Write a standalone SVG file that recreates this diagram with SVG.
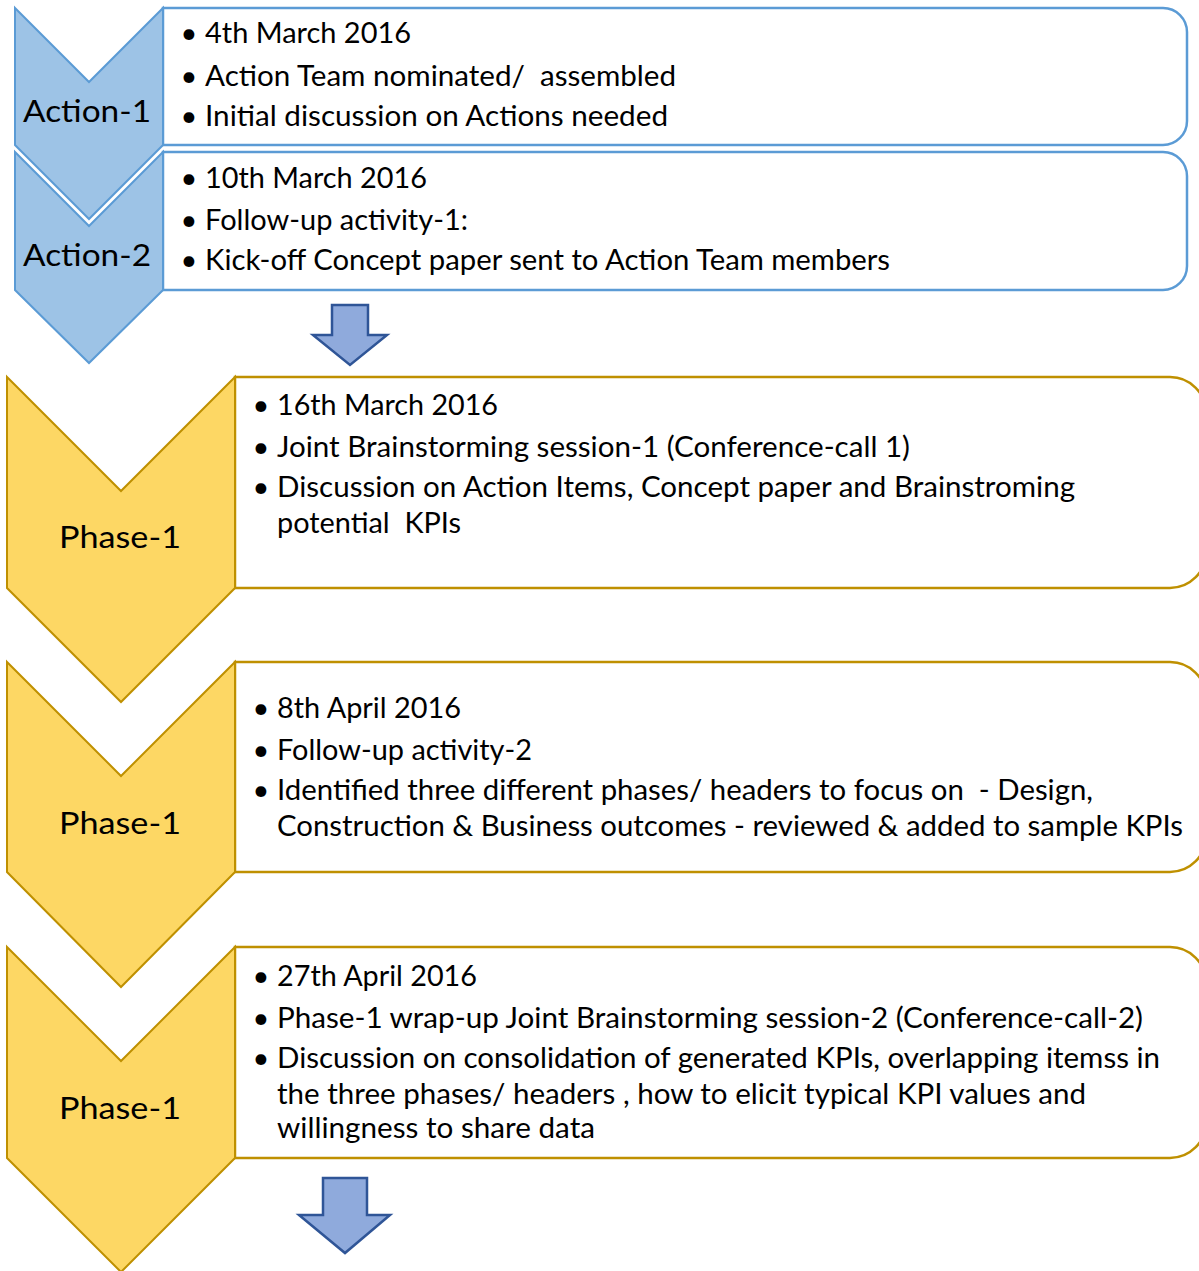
<svg xmlns="http://www.w3.org/2000/svg" width="1199" height="1271" viewBox="0 0 1199 1271">
  <style>
    .blue-chev { fill: #9DC3E6; stroke: #5B9BD5; stroke-width: 2; stroke-linejoin: miter; }
    .blue-box { fill: #FFFFFF; stroke: #5B9BD5; stroke-width: 2.5; }
    .gold-chev { fill: #FDD764; stroke: #BF9000; stroke-width: 2; stroke-linejoin: miter; }
    .gold-box { fill: #FFFFFF; stroke: #BF9000; stroke-width: 2.5; }
    .block-arrow { fill: #8FAADC; stroke: #2F5597; stroke-width: 2.5; }
    text { font-family: Lato, "Open Sans", "Liberation Sans", sans-serif; fill: #000000; white-space: pre; }
    .item { font-size: 29px; }
    .bullet { font-size: 29px; text-anchor: middle; }
    .label { font-size: 31px; }
  </style>
  <rect width="1199" height="1271" fill="#FFFFFF"/>

  <!-- Action-1 -->
  <g id="action-1">
    <path class="blue-box" d="M163,8 H1163 A24,24 0 0 1 1187,32 V121 A24,24 0 0 1 1163,145 H163 Z"/>
    <polygon class="blue-chev" points="15,8 89,82 163,8 163,145 89,219 15,145"/>
    <text class="label" x="23" y="122" textLength="128" lengthAdjust="spacingAndGlyphs">Action-1</text>
    <text class="bullet" x="189" y="43">•</text>
    <text class="item" x="205" y="43" textLength="206" lengthAdjust="spacingAndGlyphs">4th March 2016</text>
    <text class="bullet" x="189" y="86">•</text>
    <text class="item" x="205" y="86" textLength="471" lengthAdjust="spacingAndGlyphs">Action Team nominated/  assembled</text>
    <text class="bullet" x="189" y="126">•</text>
    <text class="item" x="205" y="126" textLength="463" lengthAdjust="spacingAndGlyphs">Initial discussion on Actions needed</text>
  </g>

  <!-- Action-2 -->
  <g id="action-2">
    <path class="blue-box" d="M163,152 H1163 A24,24 0 0 1 1187,176 V266 A24,24 0 0 1 1163,290 H163 Z"/>
    <polygon class="blue-chev" points="15,152 89,226 163,152 163,290 89,363 15,290"/>
    <text class="label" x="23" y="266" textLength="128" lengthAdjust="spacingAndGlyphs">Action-2</text>
    <text class="bullet" x="189" y="188">•</text>
    <text class="item" x="205" y="188" textLength="222" lengthAdjust="spacingAndGlyphs">10th March 2016</text>
    <text class="bullet" x="189" y="230">•</text>
    <text class="item" x="205" y="230" textLength="263" lengthAdjust="spacingAndGlyphs">Follow-up activity-1:</text>
    <text class="bullet" x="189" y="270">•</text>
    <text class="item" x="205" y="270" textLength="685" lengthAdjust="spacingAndGlyphs">Kick-off Concept paper sent to Action Team members</text>
  </g>

  <!-- Phase-1, first session -->
  <g id="phase-1a">
    <path class="gold-box" d="M235,377 H1170 A36,36 0 0 1 1206,413 V552 A36,36 0 0 1 1170,588 H235 Z"/>
    <polygon class="gold-chev" points="7,377 121,491 235,377 235,588 121,702 7,588"/>
    <text class="label" x="59" y="548" textLength="122" lengthAdjust="spacingAndGlyphs">Phase-1</text>
    <text class="bullet" x="261" y="415">•</text>
    <text class="item" x="277" y="415" textLength="221" lengthAdjust="spacingAndGlyphs">16th March 2016</text>
    <text class="bullet" x="261" y="457">•</text>
    <text class="item" x="277" y="457" textLength="633" lengthAdjust="spacingAndGlyphs">Joint Brainstorming session-1 (Conference-call 1)</text>
    <text class="bullet" x="261" y="497">•</text>
    <text class="item" x="277" y="497" textLength="798" lengthAdjust="spacingAndGlyphs">Discussion on Action Items, Concept paper and Brainstroming</text>
    <text class="item" x="277" y="533" textLength="184" lengthAdjust="spacingAndGlyphs">potential  KPIs</text>
  </g>

  <!-- Phase-1, follow-up -->
  <g id="phase-1b">
    <path class="gold-box" d="M235,662 H1170 A36,36 0 0 1 1206,698 V836 A36,36 0 0 1 1170,872 H235 Z"/>
    <polygon class="gold-chev" points="7,662 121,776 235,662 235,872 121,987 7,872"/>
    <text class="label" x="59" y="834" textLength="122" lengthAdjust="spacingAndGlyphs">Phase-1</text>
    <text class="bullet" x="261" y="718">•</text>
    <text class="item" x="277" y="718" textLength="184" lengthAdjust="spacingAndGlyphs">8th April 2016</text>
    <text class="bullet" x="261" y="760">•</text>
    <text class="item" x="277" y="760" textLength="255" lengthAdjust="spacingAndGlyphs">Follow-up activity-2</text>
    <text class="bullet" x="261" y="800">•</text>
    <text class="item" x="277" y="800" textLength="816" lengthAdjust="spacingAndGlyphs">Identified three different phases/ headers to focus on  - Design,</text>
    <text class="item" x="277" y="836" textLength="906" lengthAdjust="spacingAndGlyphs">Construction &amp; Business outcomes - reviewed &amp; added to sample KPIs</text>
  </g>

  <!-- Phase-1, wrap-up -->
  <g id="phase-1c">
    <path class="gold-box" d="M235,947 H1170 A36,36 0 0 1 1206,983 V1122 A36,36 0 0 1 1170,1158 H235 Z"/>
    <polygon class="gold-chev" points="7,947 121,1061 235,947 235,1158 121,1272 7,1158"/>
    <text class="label" x="59" y="1119" textLength="122" lengthAdjust="spacingAndGlyphs">Phase-1</text>
    <text class="bullet" x="261" y="986">•</text>
    <text class="item" x="277" y="986" textLength="200" lengthAdjust="spacingAndGlyphs">27th April 2016</text>
    <text class="bullet" x="261" y="1028">•</text>
    <text class="item" x="277" y="1028" textLength="866" lengthAdjust="spacingAndGlyphs">Phase-1 wrap-up Joint Brainstorming session-2 (Conference-call-2)</text>
    <text class="bullet" x="261" y="1068">•</text>
    <text class="item" x="277" y="1068" textLength="883" lengthAdjust="spacingAndGlyphs">Discussion on consolidation of generated KPIs, overlapping itemss in</text>
    <text class="item" x="277" y="1104" textLength="809" lengthAdjust="spacingAndGlyphs">the three phases/ headers , how to elicit typical KPI values and</text>
    <text class="item" x="277" y="1138" textLength="318" lengthAdjust="spacingAndGlyphs">willingness to share data</text>
  </g>

  <!-- Block arrows between stages -->
  <g id="connectors">
    <path class="block-arrow" d="M332,305 H368 V335 H387 L350,365 L313,335 H332 Z"/>
    <path class="block-arrow" d="M323,1178 H367 V1215 H390 L345,1253 L299,1215 H323 Z"/>
  </g>
</svg>
